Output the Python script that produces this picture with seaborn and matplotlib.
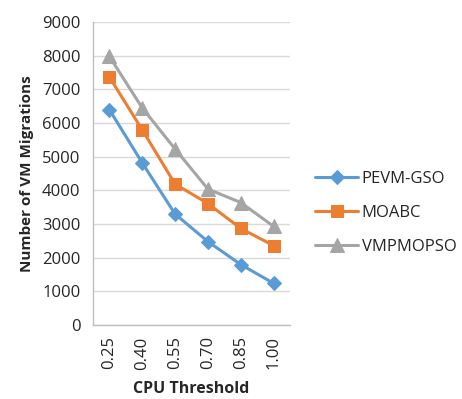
import matplotlib
matplotlib.use("Agg")
import matplotlib.pyplot as plt
import seaborn as sns
import pandas as pd
import numpy as np
from matplotlib.ticker import FixedLocator

thresholds = ["0.25", "0.40", "0.55", "0.70", "0.85", "1.00"]
pevm_gso = [6400, 4820, 3300, 2480, 1800, 1240]
moabc = [7370, 5800, 4190, 3610, 2870, 2360]
vmpmopso = [7980, 6450, 5230, 4040, 3640, 2930]
series_names = ["PEVM-GSO", "MOABC", "VMPMOPSO"]
colors = ["#5B9BD5", "#ED7D31", "#A5A5A5"]
markers = ["D", "s", "^"]
msizes = [7, 9, 10]

sns.set_style("white")
plt.rcParams['font.family'] = ['Open Sans', 'DejaVu Sans']

rows = []
for name, vals in zip(series_names, [pevm_gso, moabc, vmpmopso]):
    for i, (t, v) in enumerate(zip(thresholds, vals)):
        rows.append({"pos": i, "Threshold": t, "Value": v, "Series": name})
df = pd.DataFrame(rows)

fig = plt.figure(figsize=(4.62, 3.99), dpi=100)
ax = fig.add_axes([0.201, 0.185, 0.427, 0.760])

for name, c, m, ms in zip(series_names, colors, markers, msizes):
    sub = df[df["Series"] == name]
    sns.lineplot(data=sub, x="pos", y="Value", ax=ax, color=c, marker=m,
                 markersize=ms, markeredgecolor=c, linewidth=2.2, label=name)

ax.set_xlim(-0.5, 5.5)
ax.set_ylim(0, 9000)
ax.set_yticks(np.arange(0, 9001, 1000))
ax.set_xticks(range(len(thresholds)))
ax.set_xticklabels(thresholds, rotation=90, fontsize=12)
ax.xaxis.set_minor_locator(FixedLocator(np.arange(-0.5, 6, 1)))
ax.tick_params(axis='x', which='major', length=0, pad=8)
ax.tick_params(axis='x', which='minor', length=6, color='#BFBFBF', width=1)
ax.tick_params(axis='y', length=5, color='#BFBFBF', labelsize=12, pad=4)
ax.yaxis.grid(True, color='#D9D9D9', linewidth=1)
ax.xaxis.grid(False)
for s in ['top', 'right']:
    ax.spines[s].set_visible(False)
for s in ['left', 'bottom']:
    ax.spines[s].set_color('#BFBFBF')
    ax.spines[s].set_linewidth(1)

ax.set_xlabel("CPU Threshold", fontsize=11.5, fontweight='bold', labelpad=8)
ax.set_ylabel("Number of VM Migrations", fontsize=11, fontweight='bold', labelpad=6)

leg = ax.legend(loc='center left', bbox_to_anchor=(1.05, 0.37), frameon=False,
                fontsize=12, handlelength=2.6, labelspacing=1.1, handletextpad=0.2)

fig.savefig("out.png", dpi=100)
